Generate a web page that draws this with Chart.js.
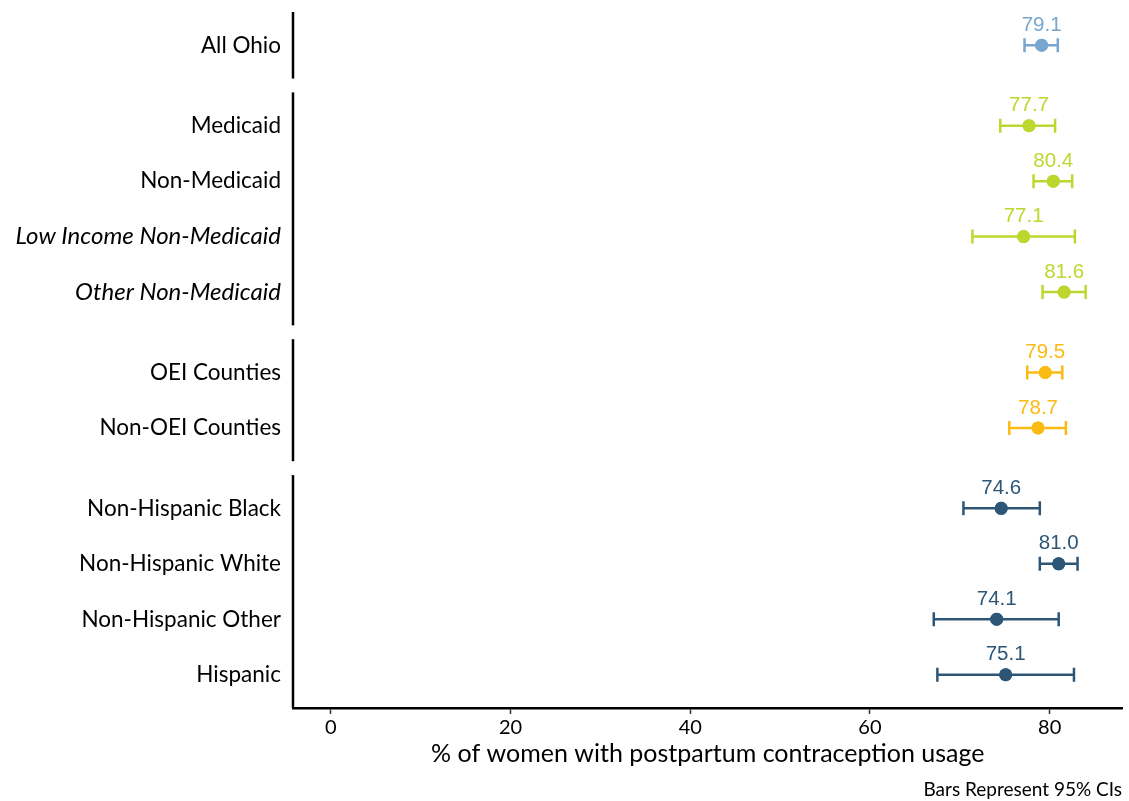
<!DOCTYPE html>
<html>
<head>
<meta charset="utf-8">
<script src="https://cdn.jsdelivr.net/npm/chart.js@4.4.1/dist/chart.umd.min.js"></script>
<style>
    html, body { margin: 0; padding: 0; background: #ffffff; }
    #wrap { width: 1129px; height: 801px; position: relative; }
</style>
</head>
<body>
<div id="wrap"><canvas id="forestChart"></canvas></div>
<script>
const categories = [
    'All Ohio',
    'Medicaid',
    'Non-Medicaid',
    'Low Income Non-Medicaid',
    'Other Non-Medicaid',
    'OEI Counties',
    'Non-OEI Counties',
    'Non-Hispanic Black',
    'Non-Hispanic White',
    'Non-Hispanic Other',
    'Hispanic'
];
const groups = [0, 1, 1, 1, 1, 2, 2, 3, 3, 3, 3];
const estimates = [79.1, 77.7, 80.4, 77.1, 81.6, 79.5, 78.7, 74.6, 81.0, 74.1, 75.1];
const ciLower = [77.2, 74.5, 78.2, 71.4, 79.2, 77.5, 75.5, 70.4, 78.9, 67.1, 67.5];
const ciUpper = [80.9, 80.6, 82.5, 82.8, 84.0, 81.4, 81.8, 78.9, 83.1, 81.0, 82.7];
const italicRows = ['Low Income Non-Medicaid', 'Other Non-Medicaid'];
const groupColors = ['#78a6cf', '#bed72f', '#fcbb14', '#2d5676'];
const xTicks = [0, 20, 40, 60, 80];

const GROUP_GAP = 0.45;
const ROW_PAD = 0.6;
const FONT = 'Lato, "Open Sans", sans-serif';

// row position on the y scale: one unit per row, plus a gap between groups
let rowPos = categories.map((c, i) => i + groups[i] * GROUP_GAP);
let pointColors = groups.map(g => groupColors[g]);

/**
 * Removes the extra room Chart.js keeps for the outer tick labels.
 */
function clearScalePadding(scale) {
    scale.paddingTop = 0;
    scale.paddingBottom = 0;
    scale.paddingLeft = 0;
    scale.paddingRight = 0;
}

let errorBarsPlugin = {
    id: 'errorBars',
    afterDatasetsDraw(chart) {
        let ctx = chart.ctx;
        let xs = chart.scales.x;
        let ys = chart.scales.y;
        ctx.save();
        ctx.lineWidth = 2.5;
        for (let i = 0; i < categories.length; i++) {
            let y = ys.getPixelForValue(rowPos[i]);
            let x0 = xs.getPixelForValue(ciLower[i]);
            let x1 = xs.getPixelForValue(ciUpper[i]);
            ctx.strokeStyle = pointColors[i];
            ctx.beginPath();
            ctx.moveTo(x0, y);
            ctx.lineTo(x1, y);
            ctx.moveTo(x0, y - 7);
            ctx.lineTo(x0, y + 7);
            ctx.moveTo(x1, y - 7);
            ctx.lineTo(x1, y + 7);
            ctx.stroke();
        }
        // redraw the points on top of the bars
        chart.getDatasetMeta(0).data.forEach(el => el.draw(ctx));

        // value labels
        ctx.font = '20.5px "Liberation Sans", Arial, sans-serif';
        ctx.textAlign = 'center';
        ctx.textBaseline = 'middle';
        for (let i = 0; i < categories.length; i++) {
            let x = xs.getPixelForValue(estimates[i]);
            let y = ys.getPixelForValue(rowPos[i]);
            ctx.fillStyle = pointColors[i];
            ctx.fillText(estimates[i].toFixed(1), x, y - 20);
        }
        ctx.restore();
    },
    afterDraw(chart) {
        let ctx = chart.ctx;
        let area = chart.chartArea;
        let ys = chart.scales.y;
        ctx.save();
        // segmented left axis, one line per group
        ctx.strokeStyle = '#000000';
        ctx.lineWidth = 2.5;
        let groupIds = [...new Set(groups)];
        groupIds.forEach(g => {
            let rows = rowPos.filter((p, i) => groups[i] === g);
            let top = ys.getPixelForValue(rows[0] - ROW_PAD);
            let bottom = g === groupIds[groupIds.length - 1]
                ? area.bottom
                : ys.getPixelForValue(rows[rows.length - 1] + ROW_PAD);
            ctx.beginPath();
            ctx.moveTo(area.left, top);
            ctx.lineTo(area.left, bottom);
            ctx.stroke();
        });

        // footnote
        ctx.fillStyle = '#000000';
        ctx.font = '19px ' + FONT;
        ctx.textAlign = 'right';
        ctx.textBaseline = 'middle';
        ctx.fillText('Bars Represent 95% CIs', 1122, 790);
        ctx.restore();
    }
};

let canvas = document.getElementById('forestChart');
let chart = new Chart(canvas, {
    type: 'scatter',
    data: {
        datasets: [
            {
                data: estimates.map((v, i) => ({ x: v, y: rowPos[i] })),
                pointRadius: 6.5,
                pointHoverRadius: 6.5,
                pointBackgroundColor: pointColors,
                pointBorderColor: pointColors,
                pointBorderWidth: 0
            }
        ]
    },
    options: {
        responsive: true,
        maintainAspectRatio: false,
        animation: false,
        events: [],
        layout: {
            padding: { left: 0, top: 12, right: 4, bottom: 32 }
        },
        plugins: {
            legend: { display: false },
            tooltip: { enabled: false }
        },
        scales: {
            x: {
                type: 'linear',
                min: -4.2,
                max: 88.1,
                afterBuildTicks: function (scale) {
                    scale.ticks = xTicks.map(v => ({ value: v }));
                },
                afterFit: function (scale) {
                    scale.height = 61;
                    clearScalePadding(scale);
                },
                grid: {
                    drawOnChartArea: false,
                    drawTicks: true,
                    tickLength: 6,
                    tickWidth: 1.5,
                    tickColor: '#333333'
                },
                border: {
                    display: true,
                    color: '#000000',
                    width: 2.5
                },
                ticks: {
                    padding: 2,
                    color: '#000000',
                    font: { family: FONT, size: 20 }
                },
                title: {
                    display: true,
                    text: '% of women with postpartum contraception usage',
                    color: '#000000',
                    padding: { top: 0, bottom: 0 },
                    font: { family: FONT, size: 25 }
                }
            },
            y: {
                type: 'linear',
                reverse: true,
                min: -ROW_PAD,
                max: rowPos[rowPos.length - 1] + ROW_PAD,
                afterBuildTicks: function (scale) {
                    scale.ticks = rowPos.map(v => ({ value: v }));
                },
                afterFit: function (scale) {
                    scale.width = 293;
                    clearScalePadding(scale);
                },
                grid: { display: false },
                border: { display: false },
                ticks: {
                    padding: 4,
                    color: '#000000',
                    autoSkip: false,
                    callback: function (value, index) {
                        return categories[index];
                    },
                    font: function (context) {
                        let italic = italicRows.includes(categories[context.index]);
                        return {
                            family: FONT,
                            size: italic ? 24 : 22.5,
                            style: italic ? 'italic' : 'normal'
                        };
                    }
                }
            }
        }
    },
    plugins: [errorBarsPlugin]
});
</script>
</body>
</html>
